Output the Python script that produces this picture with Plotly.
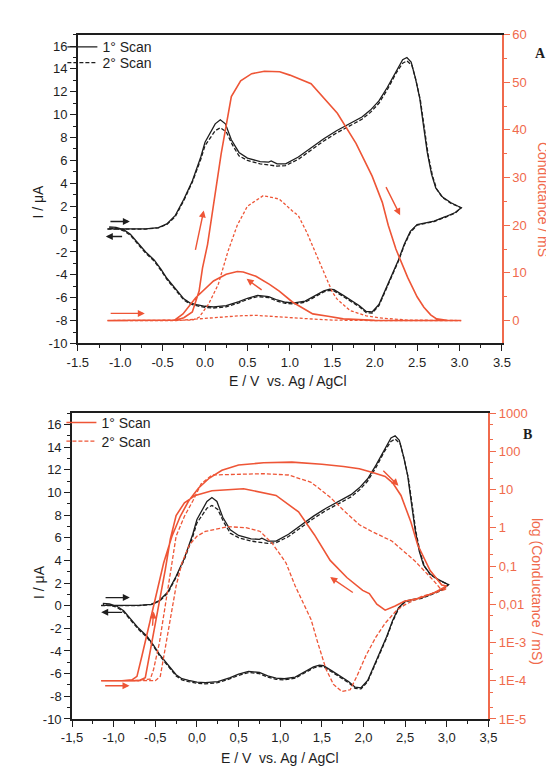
import plotly.graph_objects as go

# --- tick labels ---
e_ticks = [-1.5, -1.0, -0.5, 0.0, 0.5, 1.0, 1.5, 2.0, 2.5, 3.0, 3.5]
e_labels_a = ['-1.5', '-1.0', '-0.5', '0.0', '0.5', '1.0', '1.5', '2.0', '2.5', '3.0', '3.5']
e_labels_b = ['-1,5', '-1,0', '-0,5', '0,0', '0,5', '1,0', '1,5', '2,0', '2,5', '3,0', '3,5']
i_ticks = [-10, -8, -6, -4, -2, 0, 2, 4, 6, 8, 10, 12, 14, 16]
i_labels = ['-10', '-8', '-6', '-4', '-2', '0', '2', '4', '6', '8', '10', '12', '14', '16']
g_ticks = [0, 10, 20, 30, 40, 50, 60]
g_labels = ['0', '10', '20', '30', '40', '50', '60']
log_ticks = [1e-5, 1e-4, 1e-3, 0.01, 0.1, 1, 10, 100, 1000]
log_labels = ['1E-5', '1E-4', '1E-3', '0,01', '0,1', '1', '10', '100', '1000']

# --- cyclic voltammogram, 1° scan (forward then return) ---
cv1_e = [-1.15, -0.9, -0.7, -0.55, -0.45, -0.35, -0.25, -0.15, -0.05, 0.0, 0.05, 0.12, 0.18, 0.24,
         0.31, 0.40, 0.50, 0.65, 0.75, 0.78, 0.85, 0.95, 1.10, 1.25, 1.40, 1.55, 1.70, 1.85, 1.95,
         2.05, 2.15, 2.25, 2.33, 2.38, 2.43, 2.48, 2.53, 2.58, 2.62, 2.67, 2.72, 2.80, 2.90, 3.02,
         2.95, 2.84, 2.70, 2.60, 2.50, 2.42, 2.35, 2.28, 2.16, 2.05, 1.97, 1.90, 1.82, 1.72, 1.63,
         1.52, 1.47, 1.40, 1.29, 1.18, 1.05, 0.95, 0.85, 0.75, 0.62, 0.50, 0.40, 0.25, 0.10, 0.0,
         -0.10, -0.18, -0.25, -0.32, -0.40, -0.45, -0.52, -0.60, -0.70, -0.78, -0.88, -0.96, -1.05, -1.13]
cv1_i = [0.02, 0.0, 0.02, 0.12, 0.45, 1.2, 2.6, 4.2, 6.3, 7.6, 8.3, 9.2, 9.55, 9.2,
         7.8, 6.7, 6.2, 5.9, 5.85, 5.95, 5.7, 5.7, 6.3, 7.1, 7.9, 8.6, 9.2, 9.8, 10.4,
         11.2, 12.4, 13.8, 14.8, 15.0, 14.6, 13.2, 11.5, 8.8, 6.7, 4.8, 3.6, 2.8, 2.3, 1.86,
         1.45, 1.1, 0.7, 0.55, 0.4, -0.2, -1.3, -2.7, -4.7, -6.6, -7.25, -7.2, -6.7, -6.2, -5.8,
         -5.3, -5.25, -5.4, -5.85, -6.3, -6.45, -6.4, -6.2, -5.9, -5.8, -6.05, -6.35, -6.7, -6.8, -6.75,
         -6.6, -6.45, -6.1, -5.5, -4.8, -4.3, -3.5, -2.7, -2.0, -1.3, -0.45, -0.05, 0.15, 0.2]

# --- cyclic voltammogram, 2° scan ---
cv2_e = [-1.15, -0.9, -0.7, -0.55, -0.45, -0.35, -0.25, -0.15, -0.05, 0.0, 0.06, 0.12, 0.18, 0.25,
         0.32, 0.40, 0.50, 0.65, 0.85, 0.95, 1.10, 1.25, 1.40, 1.55, 1.70, 1.85, 1.95, 2.05, 2.15,
         2.25, 2.33, 2.38, 2.44, 2.49, 2.54, 2.59, 2.63, 2.68, 2.73, 2.80, 2.90, 3.02,
         2.95, 2.84, 2.70, 2.60, 2.50, 2.42, 2.35, 2.28, 2.16, 2.05, 1.97, 1.90, 1.82, 1.72, 1.63,
         1.52, 1.47, 1.40, 1.29, 1.18, 1.05, 0.95, 0.85, 0.75, 0.62, 0.50, 0.40, 0.25, 0.10, 0.0,
         -0.10, -0.18, -0.25, -0.32, -0.40, -0.45, -0.52, -0.60, -0.70, -0.78, -0.88, -0.96, -1.05, -1.13]
cv2_i = [0.0, -0.02, 0.0, 0.1, 0.4, 1.1, 2.5, 4.1, 6.1, 7.3, 8.0, 8.6, 8.85, 8.5,
         7.4, 6.4, 6.0, 5.7, 5.5, 5.55, 6.1, 6.9, 7.7, 8.4, 9.0, 9.6, 10.2, 11.0, 12.2,
         13.6, 14.5, 14.7, 14.3, 12.9, 11.2, 8.6, 6.5, 4.7, 3.5, 2.75, 2.25, 1.86,
         1.4, 1.05, 0.65, 0.5, 0.35, -0.3, -1.4, -2.8, -4.8, -6.7, -7.35, -7.3, -6.8, -6.3, -5.9,
         -5.4, -5.35, -5.5, -5.95, -6.4, -6.55, -6.5, -6.3, -6.0, -5.9, -6.15, -6.45, -6.8, -6.9, -6.85,
         -6.7, -6.55, -6.2, -5.6, -4.9, -4.4, -3.6, -2.8, -2.1, -1.4, -0.55, -0.15, 0.05, 0.1]

# --- panel A conductance (mS) ---
ga1_e = [-1.15, -0.5, -0.34, -0.25, -0.15, -0.07, -0.03, 0.03, 0.08, 0.19, 0.31, 0.42, 0.55, 0.70,
         0.88, 1.0, 1.25, 1.56, 1.78, 1.97, 2.09, 2.16, 2.25, 2.39, 2.50, 2.58, 2.66, 2.73, 2.85, 3.02,
         2.50, 2.00, 1.63, 1.45, 1.27, 1.03, 0.875, 0.76, 0.60, 0.45, 0.38, 0.25, 0.10, -0.11, -0.26,
         -0.36, -0.5, -1.15]
ga1_g = [0, 0, 0.1, 0.6, 1.8, 6.2, 11, 16, 22, 35, 47, 50.3, 51.8, 52.3,
         52.2, 51.5, 49.7, 43.5, 37.2, 30.3, 24.8, 20, 15, 9, 5, 2.8, 1.2, 0.35, 0.05, 0,
         0, 0.05, 0.35, 0.9, 1.4, 3.9, 6.2, 7.6, 9.3, 10.2, 10.3, 9.7, 8.3, 4.8, 1.4,
         0.1, 0, 0]
ga2_e = [-1.15, -0.3, -0.15, -0.07, 0.04, 0.156, 0.27, 0.38, 0.50, 0.685, 0.875, 1.03, 1.10,
         1.20, 1.33, 1.44, 1.50, 1.557, 1.71, 1.90, 2.09, 2.40, 3.02,
         2.00, 1.50, 1.20, 0.875, 0.60, 0.40, 0.10, -0.15, -0.34, -1.15]
ga2_g = [0, 0, 0.1, 0.7, 3.4, 7.6, 14.5, 20, 24, 26.2, 25.5, 23, 22,
         18.5, 13.1, 8.5, 6, 4.5, 2.1, 1.0, 0.5, 0.1, 0,
         0, 0.1, 0.4, 0.7, 1.1, 1.0, 0.6, 0.25, 0, 0]

# --- panel B conductance (mS, log) ---
gb1_e = [-1.15, -0.9, -0.78, -0.72, -0.66, -0.60, -0.54, -0.48, -0.40, -0.30, -0.20, -0.10, 0.02,
         0.15, 0.30, 0.50, 0.80, 1.14, 1.50, 1.76, 1.95, 2.11, 2.26, 2.35, 2.45, 2.57, 2.65, 2.80,
         2.94, 3.00,
         2.85, 2.65, 2.49, 2.38, 2.26, 2.16, 2.07, 1.99, 1.80, 1.60, 1.41, 1.22, 0.95, 0.56, 0.18,
         -0.02, -0.15, -0.25, -0.32, -0.38, -0.45, -0.52, -0.58, -0.62, -0.70, -1.15]
gb1_g = [1.0e-4, 1.0e-4, 1.05e-4, 1.3e-4, 4.5e-4, 1.6e-3, 5.6e-3, 0.02, 0.12, 0.6, 2.0, 5.0, 11,
         20, 32, 44, 50, 52, 46, 40, 35, 28, 22, 15, 7, 1.4, 0.36, 0.076,
         0.032, 0.03,
         0.02, 0.014, 0.012, 0.009, 0.007, 0.01, 0.019, 0.023, 0.05, 0.14, 0.66, 2.6, 7, 10.5, 9.3,
         7, 4.5, 2.1, 0.5, 0.08, 0.012, 1.5e-3, 3e-4, 1.2e-4, 1.0e-4, 1.0e-4]
gb2_e = [-1.15, -0.5, -0.44, -0.38, -0.32, -0.25, -0.18, -0.09, 0.0, 0.10, 0.37, 0.60, 0.76, 0.90,
         1.0, 1.07, 1.18, 1.26, 1.37, 1.45, 1.55, 1.64, 1.74, 1.84, 1.92, 2.03, 2.15, 2.26, 2.40,
         2.49, 2.70, 2.92, 3.0,
         2.92, 2.84, 2.61, 2.34, 2.10, 1.95, 1.75, 1.60, 1.37, 1.10, 0.80, 0.40, 0.18, 0.05, -0.05,
         -0.15, -0.25, -0.30, -0.38, -0.45, -0.52, -0.56, -0.8, -1.15]
gb2_g = [1e-4, 1e-4, 1.3e-4, 7e-4, 4e-3, 0.03, 0.12, 0.36, 0.6, 0.8, 1.07, 1.0, 0.8, 0.4,
         0.2, 0.12, 0.03, 0.0126, 0.004, 0.001, 2e-4, 8e-5, 5.2e-5, 5.8e-5, 1.3e-4, 4.6e-4, 1.4e-3, 3.2e-3, 7e-3,
         9.5e-3, 0.016, 0.022, 0.025,
         0.026, 0.042, 0.14, 0.45, 0.8, 1.2, 3, 6.3, 15.5, 24, 26, 25, 24, 14, 5,
         2, 0.6, 0.12, 0.01, 1e-3, 2e-4, 1.1e-4, 1e-4, 1e-4]

# arrows: (head_x, head_y, tail_x, tail_y)
black_arrows = [(-0.886, 0.66, -1.133, 0.66), (-1.17, -0.65, -0.96, -0.65)]
red_arrows_a = [(-0.71, 1.5, -1.13, 1.5), (-0.015, 23.1, -0.117, 14.5),
                (2.30, 22.1, 2.125, 28.3), (0.49, 8.75, 0.685, 6.2)]
black_arrows_b = [(-0.806, 0.71, -1.115, 0.71), (-1.15, -0.59, -0.88, -0.59)]
red_arrows_b = [(-0.81, -4.13, -1.12, -4.13), (-0.52, -2.19, -0.535, -2.6),
                (2.42, 1.10, 2.22, 1.53), (1.60, -1.29, 1.89, -1.72)]  # y in log10 units

BLACK = '#1e1e1e'
RED = '#ee5536'
RED_AX = '#f06a4c'
FONT = 'Liberation Sans, Arial, sans-serif'

fig = go.Figure()

# panel A
fig.add_trace(go.Scatter(x=cv1_e, y=cv1_i, mode='lines', name='1° Scan', legend='legend',
                         line=dict(color=BLACK, width=1.3), xaxis='x', yaxis='y'))
fig.add_trace(go.Scatter(x=cv2_e, y=cv2_i, mode='lines', name='2° Scan', legend='legend2',
                         line=dict(color=BLACK, width=1.3, dash='4px,2px'), xaxis='x', yaxis='y'))
fig.add_trace(go.Scatter(x=ga1_e, y=ga1_g, mode='lines', showlegend=False,
                         line=dict(color=RED, width=1.6), xaxis='x', yaxis='y2'))
fig.add_trace(go.Scatter(x=ga2_e, y=ga2_g, mode='lines', showlegend=False,
                         line=dict(color=RED, width=1.3, dash='3px,2px'), xaxis='x', yaxis='y2'))

# panel B
fig.add_trace(go.Scatter(x=cv1_e, y=cv1_i, mode='lines', showlegend=False,
                         line=dict(color=BLACK, width=1.3), xaxis='x2', yaxis='y3'))
fig.add_trace(go.Scatter(x=cv2_e, y=cv2_i, mode='lines', showlegend=False,
                         line=dict(color=BLACK, width=1.3, dash='4px,2px'), xaxis='x2', yaxis='y3'))
fig.add_trace(go.Scatter(x=gb1_e, y=gb1_g, mode='lines', name='1° Scan', legend='legend3',
                         line=dict(color=RED, width=1.6), xaxis='x2', yaxis='y4'))
fig.add_trace(go.Scatter(x=gb2_e, y=gb2_g, mode='lines', name='2° Scan', legend='legend4',
                         line=dict(color=RED, width=1.3, dash='4px,2px'), xaxis='x2', yaxis='y4'))

W, H = 554, 767


def px(x):
    return x / W


def py(y):
    return 1 - y / H


tick_font = dict(family=FONT, size=13, color=BLACK)
red_font = dict(family=FONT, size=13, color=RED_AX)


def xax(dom, anchor, labels):
    return dict(domain=dom, anchor=anchor, range=[-1.5, 3.5], tickvals=e_ticks, ticktext=labels,
                ticks='outside', ticklen=6, tickwidth=1.3, tickcolor=BLACK,
                minor=dict(ticks='outside', ticklen=3, tickwidth=1.2, tickcolor=BLACK, dtick=0.25, tick0=-1.5),
                showline=True, linewidth=1.6, linecolor=BLACK, mirror=True,
                showgrid=False, zeroline=False, tickfont=tick_font)


def iax(dom, anchor):
    return dict(domain=dom, anchor=anchor, range=[-10, 17], tickvals=i_ticks, ticktext=i_labels,
                ticks='outside', ticklen=6, tickwidth=1.3, tickcolor=BLACK,
                minor=dict(ticks='outside', ticklen=3, tickwidth=1.2, tickcolor=BLACK, dtick=1, tick0=0),
                showline=True, linewidth=1.6, linecolor=BLACK,
                showgrid=False, zeroline=False, tickfont=tick_font)


def leg(x, y):
    return dict(x=px(x), y=py(y), xanchor='left', yanchor='middle', bgcolor='rgba(0,0,0,0)',
                font=dict(family=FONT, size=14, color=BLACK), itemwidth=30)


fig.update_layout(
    width=W, height=H, margin=dict(l=0, r=0, t=0, b=0),
    paper_bgcolor='white', plot_bgcolor='white',
    xaxis=xax([px(61), px(501)], 'y', e_labels_a),
    yaxis=iax([py(335), py(20)], 'x'),
    yaxis2=dict(overlaying='y', side='right', anchor='x', range=[-4.8, 60],
                tickvals=g_ticks, ticktext=g_labels, ticks='outside', ticklen=6, tickwidth=1.3,
                tickcolor=RED_AX,
                minor=dict(ticks='outside', ticklen=3, tickwidth=1.2, tickcolor=RED_AX, dtick=5, tick0=0),
                showline=True, linewidth=1.6, linecolor=RED_AX,
                showgrid=False, zeroline=False, tickfont=red_font),
    xaxis2=xax([px(55), px(487)], 'y3', e_labels_b),
    yaxis3=iax([py(718), py(406)], 'x2'),
    yaxis4=dict(overlaying='y3', side='right', anchor='x2', type='log', range=[-5, 3],
                tickvals=log_ticks, ticktext=log_labels, ticks='outside', ticklen=6, tickwidth=1.3,
                tickcolor=RED_AX,
                minor=dict(ticks='outside', ticklen=3, tickwidth=1, tickcolor=RED_AX),
                showline=True, linewidth=1.6, linecolor=RED_AX,
                showgrid=False, zeroline=False, tickfont=red_font),
    legend=leg(45, 33),
    legend2=leg(45, 49),
    legend3=leg(44, 416),
    legend4=leg(44, 435),
    showlegend=True,
)

ann = []
title_font = dict(family=FONT, size=14, color=BLACK)
red_title_font = dict(family=FONT, size=14, color=RED_AX)


def label(x, y, text, font, angle=0):
    return dict(x=px(x), y=py(y), xref='paper', yref='paper', text=text, textangle=angle,
                xanchor='center', yanchor='middle', showarrow=False, font=font)


serif = dict(family='Liberation Serif, Times New Roman, serif', size=14, color=BLACK)
ann.append(label(20, 190, 'I / μA', title_font, -90))
ann.append(label(279, 373, 'E / V\u00a0 vs. Ag / AgCl', title_font))
ann.append(label(543, 188, 'Conductance / mS', red_title_font, 90))
ann.append(label(541, 39, '<b>A</b>', serif))
ann.append(label(20, 578, 'I / μA', title_font, -90))
ann.append(label(271, 758, 'E / V\u00a0 vs. Ag / AgCl', title_font))
ann.append(label(538, 588, 'log (Conductance / mS)', red_title_font, 90))
ann.append(label(528, 428, '<b>B</b>', serif))


def arrow(hx, hy, tx, ty, xr, yr, color):
    return dict(x=hx, y=hy, ax=tx, ay=ty, xref=xr, yref=yr, axref=xr, ayref=yr, text='',
                showarrow=True, arrowhead=2, arrowsize=1, arrowwidth=1.4, arrowcolor=color, standoff=0)


for a in black_arrows:
    ann.append(arrow(*a, 'x', 'y', BLACK))
for a in red_arrows_a:
    ann.append(arrow(*a, 'x', 'y2', RED))
for a in black_arrows_b:
    ann.append(arrow(*a, 'x2', 'y3', BLACK))
for a in red_arrows_b:
    ann.append(arrow(*a, 'x2', 'y4', RED))

fig.update_layout(annotations=ann)

fig.write_html("out.html")
